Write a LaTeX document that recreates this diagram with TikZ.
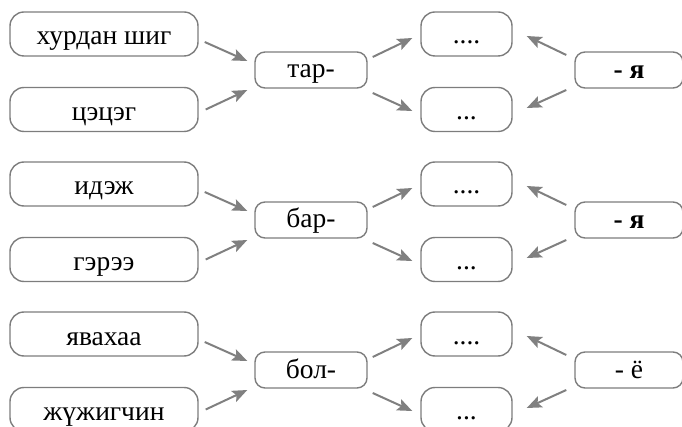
\documentclass[tikz,border=0pt]{standalone}
\usepackage{fontspec}
\setmainfont{Liberation Serif}
\usetikzlibrary{arrows.meta,calc}
\definecolor{boxgray}{RGB}{125,125,125}
\definecolor{arrgray}{RGB}{128,128,128}
\tikzset{
  basebox/.style={draw=boxgray,line width=1.4pt,inner sep=0pt,font=\fontsize{27.5}{31}\selectfont,text depth=0pt},
  wordbox/.style={basebox,rounded corners=14pt,minimum width=188pt,minimum height=44pt,text height=22pt},
  stembox/.style={basebox,rounded corners=10pt,minimum width=112pt,minimum height=36pt,text height=16pt},
  blankbox/.style={basebox,rounded corners=14pt,minimum width=91pt,minimum height=44pt,text height=20pt},
  sufbox/.style={basebox,rounded corners=10pt,minimum width=108pt,minimum height=36pt,text height=17pt},
  arr/.style={draw=arrgray,line width=2pt,-{Stealth[length=15pt,width=12pt,inset=3pt]}}
}
\begin{document}
\begin{tikzpicture}[x=1pt,y=1pt]
\useasboundingbox (0,0) rectangle (682,-427);
\foreach \o/\wa/\wb/\st/\su [count=\k] in {0/хурдан шиг/цэцэг/тар-/\textbf{- я}, 150/идэж/гэрээ/бар-/\textbf{- я}, 300/явахаа/жүжигчин/бол-/- ё}{
  \node[wordbox] (a\k) at (104,-34-\o) {\wa};
  \node[wordbox] (b\k) at (104,-109.5-\o) {\wb};
  \node[stembox] (m\k) at (311,-70-\o) {\st};
  \node[blankbox] (r\k) at (466.5,-34-\o) {....};
  \node[blankbox] (q\k) at (466.5,-109.5-\o) {...};
  \node[sufbox] (s\k) at (629,-70-\o) {\su};
  \draw[arr] ($(a\k.east)+(6,-8)$) -- ($(m\k.west)+(-7,9)$);
  \draw[arr] ($(b\k.east)+(7,0)$) -- ($(m\k.west)+(-7,-20)$);
  \draw[arr] ($(m\k.east)+(5,13)$) -- ($(r\k.west)+(-8,-4)$);
  \draw[arr] ($(m\k.east)+(5,-23)$) -- ($(q\k.west)+(-8,-1.5)$);
  \draw[arr] ($(s\k.west)+(-8,15)$) -- ($(r\k.east)+(14,-2)$);
  \draw[arr] ($(s\k.west)+(-8,-20)$) -- ($(q\k.east)+(14,1.5)$);
}
\end{tikzpicture}
\end{document}
